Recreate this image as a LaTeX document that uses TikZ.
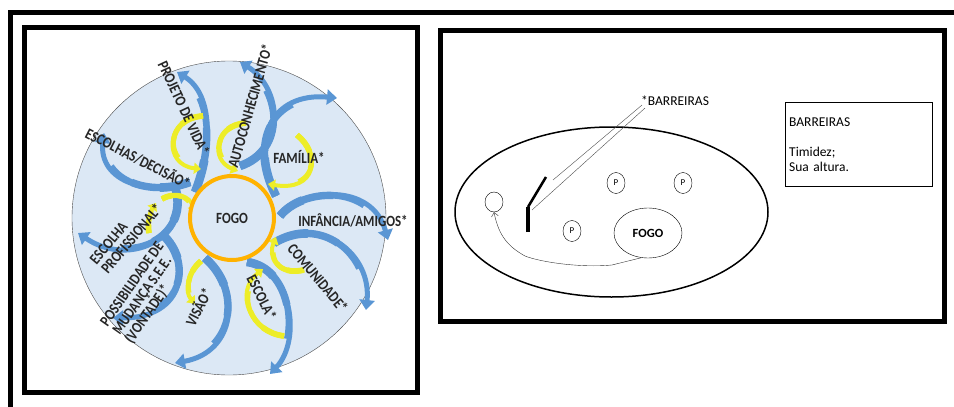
\documentclass[tikz,border=0pt]{standalone}
\usepackage{fontspec}
\setmainfont{Carlito}
\definecolor{himmel}{RGB}{220,232,245}
\definecolor{pfeilblau}{RGB}{90,150,212}
\definecolor{pfeildunkel}{RGB}{70,116,178}
\definecolor{pfeilgelb}{RGB}{238,238,40}
\definecolor{oliv}{RGB}{190,190,10}
\definecolor{feuer}{RGB}{255,178,0}
\usetikzlibrary{arrows.meta, shapes, positioning, calc}
% curved arrow, thicker towards its tail
\newcommand\bogenpfeil[5]{%
  \draw[#1 arrow] (#2) .. controls (#3) and (#4) .. (#5);
  \foreach \t/\s in {0.72/1, 0.48/2, 0.24/3}{
    \coordinate (a1) at ($(#2)!\t!(#3)$);
    \coordinate (a2) at ($(#3)!\t!(#4)$);
    \coordinate (a3) at ($(#4)!\t!(#5)$);
    \coordinate (b1) at ($(a1)!\t!(a2)$);
    \coordinate (b2) at ($(a2)!\t!(a3)$);
    \coordinate (c1) at ($(b1)!\t!(b2)$);
    \draw[#1 tail=\s] (#2) .. controls (a1) and (b1) .. (c1);
  }}

\begin{document}
\begin{tikzpicture}[x=1pt, y=-1pt, >=Latex,
    blue arrow/.style={pfeilblau, line width=5pt, -{Triangle[width=15pt,length=10pt]}},
    blue tail/.style={pfeildunkel!#1!pfeilblau, line width=5pt+1.2pt*#1},
    yellow arrow/.style={pfeilgelb, line width=4pt, -{Triangle[width=11pt,length=7pt]}},
    yellow tail/.style={oliv!#1!pfeilgelb, line width=4pt+0.6pt*#1},
    lbl/.style={font=\bfseries\fontsize{13}{12.5}\selectfont, text=black!85,
                inner sep=0pt, align=center},
    tall/.style={yscale=1.2},
    pnode/.style={draw, ellipse, minimum width=18, minimum height=21, inner sep=0pt,
                  font=\fontsize{9}{10}\selectfont}]
      \useasboundingbox (0,0) rectangle (954,407);
      % Frames
      \draw[line width=5pt] (10.5,407) -- (10.5,12.5) -- (954,12.5);
      \draw[line width=5pt] (24.5,27) rectangle (417.5,392.5);
      \draw[line width=5pt] (440.5,30.5) rectangle (944.5,321);
      % Sun
      \filldraw[fill=himmel, draw=black!70, thin] (229,218) circle (157);
      \bogenpfeil{blue}{195,192}{212,150}{214,95}{177,72}
      \bogenpfeil{blue}{190,182}{150,197}{98,182}{104,133}
      \bogenpfeil{blue}{240,166}{287,150}{282,88}{240,62}
      \bogenpfeil{blue}{276,196}{248,140}{272,92}{337,98}
      \bogenpfeil{blue}{280,216}{302,188}{372,182}{388,240}
      \bogenpfeil{blue}{274,243}{322,214}{372,255}{366,310}
      \bogenpfeil{blue}{247,262}{292,268}{302,340}{270,374}
      \bogenpfeil{blue}{205,258}{242,290}{236,352}{175,363}
      \bogenpfeil{blue}{163,235}{192,262}{186,318}{113,318}
      \bogenpfeil{blue}{176,190}{188,238}{130,268}{78,233}
      \bogenpfeil{yellow}{203,116}{165,118}{163,165}{201,169}
      \bogenpfeil{yellow}{246,123}{214,125}{210,160}{238,171}
      \bogenpfeil{yellow}{297,135}{322,155}{316,192}{268,184}
      \bogenpfeil{yellow}{162,199}{176,191}{190,196}{195,213}
      \bogenpfeil{yellow}{149,233}{147,222}{150,212}{156,203}
      \bogenpfeil{yellow}{304,270}{276,276}{268,256}{276,237}
      \bogenpfeil{yellow}{284,336}{250,332}{234,292}{263,269}
      \bogenpfeil{yellow}{201,261}{186,274}{185,292}{195,304}
      \filldraw[fill=himmel, draw=feuer, line width=4pt] (232,218) circle (42);
      \node[lbl, tall] (fogoL) at (232,218) {FOGO};
      % Labels
      \node[lbl, rotate=-65, tall] (projeto) at (184,108) {PROJETO DE VIDA*};
      \node[lbl, rotate=-27, tall] (escolhas) at (138,158) {ESCOLHAS/DECISÃO*};
      \node[lbl, rotate=74, tall] (auto) at (250,106) {AUTOCONHECIMENTO*};
      \node[lbl, tall] (familia) at (299,157) {FAMÍLIA*};
      \node[lbl, tall] (infancia) at (353,220) {INFÂNCIA/AMIGOS*};
      \node[lbl, rotate=-50, tall] (comunidade) at (318,278) {COMUNIDADE*};
      \node[lbl, rotate=-63, tall] (escola) at (262,297) {ESCOLA*};
      \node[lbl, rotate=63, tall] (visao) at (198,307) {VISÃO*};
      \node[lbl, align=left, rotate=55, tall] (mudanca) at (145,293) {POSSIBILIDADE DE\\MUDANÇA S.E.E.\\(VONTADE)*};
      \node[lbl, align=left, rotate=50, tall] (profissional) at (126,234) {ESCOLHA\\PROFISSIONAL*};
      % Field
      \draw[line width=1.5pt] (611.5,212) ellipse [x radius=156.5, y radius=85];
      \node[draw, ellipse, minimum width=18, minimum height=20, inner sep=0pt] (person) at (494,202) {};
      \node[pnode] (p1) at (616,183) {P};
      \node[pnode] (p2) at (683,183) {P};
      \node[pnode] (p3) at (572,231) {P};
      \node[draw, ellipse, minimum width=68, minimum height=50, font=\bfseries\fontsize{12.5}{14}\selectfont] (fogoR) at (648,233) {FOGO};
      % Barrier
      \coordinate (knick) at (528,207);
      \draw[line width=4pt] (528,232) -- (knick);
      \draw[line width=2.5pt] (knick) -- (546,177);
      \node[anchor=west, inner sep=0pt, font=\fontsize{13.5}{15}\selectfont] (barr) at (641,101) {*BARREIRAS};
      \draw[black!70] (553,180) -- ($(barr.south west)+(1,-1)$);
      \draw[black!70] (532,210) -- ($(barr.south west)+(4,2)$);
      % Way back
      \draw[black!80, -{Straight Barb[length=4pt,width=7pt]}] (fogoR.255) -- (612,265)
        .. controls (580,268) and (540,262) .. (525,256)
        .. controls (505,245) and (498,232) .. (person.south);
      % Box
      \node[draw, thin, anchor=north west, minimum width=147, minimum height=84,
            text width=139, align=left, inner sep=4pt,
            font=\fontsize{13.5}{15}\selectfont] (liste) at (785,102)
            {BARREIRAS\\[15pt]Timidez;\\Sua altura.};
    \end{tikzpicture}
\end{document}
